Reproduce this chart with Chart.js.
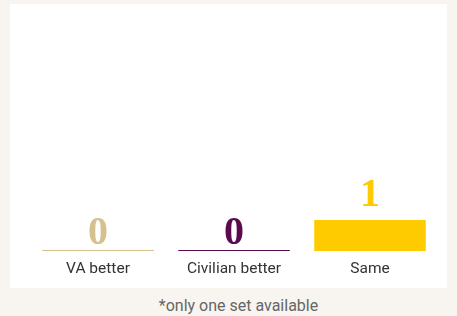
<!DOCTYPE html>
<html lang="en">
<head>
  <meta charset="UTF-8">
  <title>VA vs Civilian</title>
  <script src="https://cdn.jsdelivr.net/npm/chart.js"></script>
  <style>
    body {
      margin: 0;
      background: #f8f5f0;
      font-family: Roboto, sans-serif;
      width: 457px;
      height: 316px;
      position: relative;
      overflow: hidden;
    }
    #panel {
      position: absolute;
      left: 10px;
      top: 4px;
      width: 437px;
      height: 284px;
      background: #fff;
    }
    #note {
      position: absolute;
      left: 10px;
      width: 457px;
      top: 296px;
      text-align: center;
      font-size: 16px;
      color: #666;
    }
  </style>
</head>
<body>
<div id="panel"><canvas id="chart" width="437" height="284"></canvas></div>
<div id="note">*only one set available</div>
<script>
const categories = ['VA better', 'Civilian better', 'Same'];
const counts = [0, 0, 1];
const barColors = ['#d6c08e', '#5b0a50', '#fecb00'];

// draws the count above each bar in a bold serif
const valueLabels = {
  id: 'valueLabels',
  afterDatasetsDraw(chart) {
    const ctx = chart.ctx;
    const meta = chart.getDatasetMeta(0);
    ctx.save();
    ctx.font = 'bold 40px "Liberation Serif", serif';
    ctx.textAlign = 'center';
    ctx.textBaseline = 'alphabetic';
    meta.data.forEach((bar, i) => {
      const v = counts[i];
      ctx.fillStyle = barColors[i];
      ctx.fillText(String(v), bar.x, bar.y - (v > 0 ? 14 : 6));
    });
    ctx.restore();
  }
};

new Chart(document.getElementById('chart'), {
  type: 'bar',
  data: {
    labels: categories,
    datasets: [{
      data: counts,
      backgroundColor: barColors,
      minBarLength: 1,
      barPercentage: 0.82,
      categoryPercentage: 1
    }]
  },
  options: {
    responsive: false,
    animation: false,
    layout: { padding: { left: 20, right: 9, top: 30, bottom: 8 } },
    plugins: { legend: { display: false }, tooltip: { enabled: false } },
    scales: {
      x: {
        grid: { display: false },
        border: { display: false },
        ticks: { color: '#333', padding: 1, font: { family: 'Roboto', size: 15.5, lineHeight: '19px' } }
      },
      y: { display: false, min: 0, max: 7 }
    }
  },
  plugins: [valueLabels]
});
</script>
</body>
</html>
